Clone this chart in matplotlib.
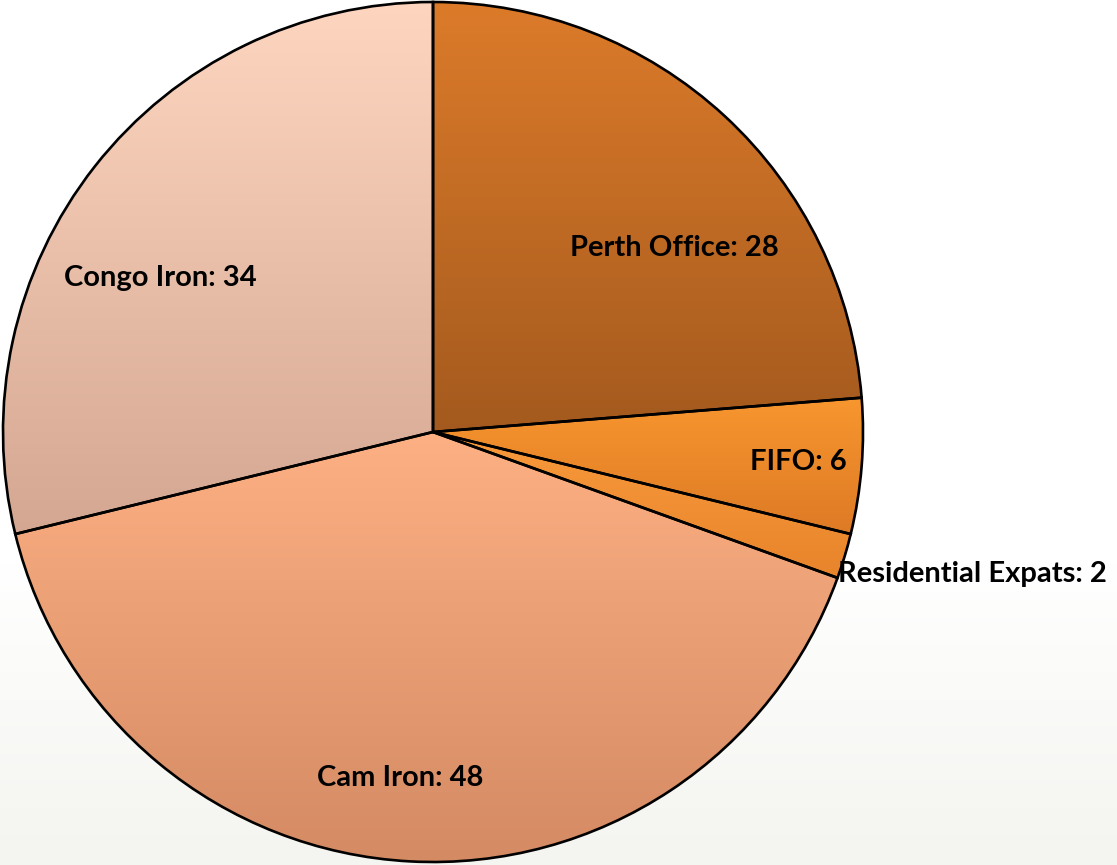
import matplotlib
matplotlib.use("Agg")
import matplotlib.pyplot as plt
import numpy as np
from matplotlib.colors import LinearSegmentedColormap

# data
labels = ["Perth Office", "FIFO", "Residential Expats", "Cam Iron", "Congo Iron"]
values = [28, 6, 2, 48, 34]
top_colors = ["#dc7b2a", "#f8962f", "#f89a3c", "#fdb083", "#fed6c0"]
bottom_colors = ["#a45a1e", "#dd7a25", "#e8842b", "#d48a63", "#d4a792"]
# label anchors in pixel coords (x, y from top), alignment
label_pos = [(674, 248, "center"), (847, 462, "right"), (838, 574, "left"),
             (400, 778, "center"), (160, 278, "center")]

W, H = 1117, 865
CX, CY, R = 433, 432, 430

fig = plt.figure(figsize=(W / 100, H / 100), dpi=100)
ax = fig.add_axes([0, 0, 1, 1])

# faint background gradient toward the bottom
yy = np.linspace(0, 1, 256).reshape(-1, 1)
bg = np.clip((0.35 - yy) / 0.35, 0, 1)
bg_cmap = LinearSegmentedColormap.from_list("bg", ["#ffffff", "#f4f4f0"])
ax.imshow(bg, cmap=bg_cmap, extent=(0, W, 0, H), origin="lower",
          aspect="auto", zorder=0, vmin=0, vmax=1)

wedges, _ = ax.pie(values, startangle=90, counterclock=False,
                   center=(CX, H - CY), radius=R, frame=True,
                   wedgeprops=dict(edgecolor="black", linewidth=1.9, facecolor="none"))

for w, c_top, c_bot in zip(wedges, top_colors, bottom_colors):
    ext = w.get_path().get_extents()
    cmap = LinearSegmentedColormap.from_list("g", [c_bot, c_top])
    grad = np.linspace(0, 1, 256).reshape(-1, 1)
    im = ax.imshow(grad, cmap=cmap, extent=(ext.x0, ext.x1, ext.y0, ext.y1),
                   origin="lower", aspect="auto", zorder=1)
    im.set_clip_path(w)
    w.set_zorder(2)

ax.set_xlim(0, W)
ax.set_ylim(0, H)
ax.set_aspect("auto")
ax.axis("off")

for lab, v, (x, y, ha) in zip(labels, values, label_pos):
    ax.text(x, H - y, f"{lab}: {v}", ha=ha, va="center", fontsize=21,
            fontweight="bold", family=["Lato", "DejaVu Sans"], color="black", zorder=5)

fig.savefig("out.png", dpi=100)
